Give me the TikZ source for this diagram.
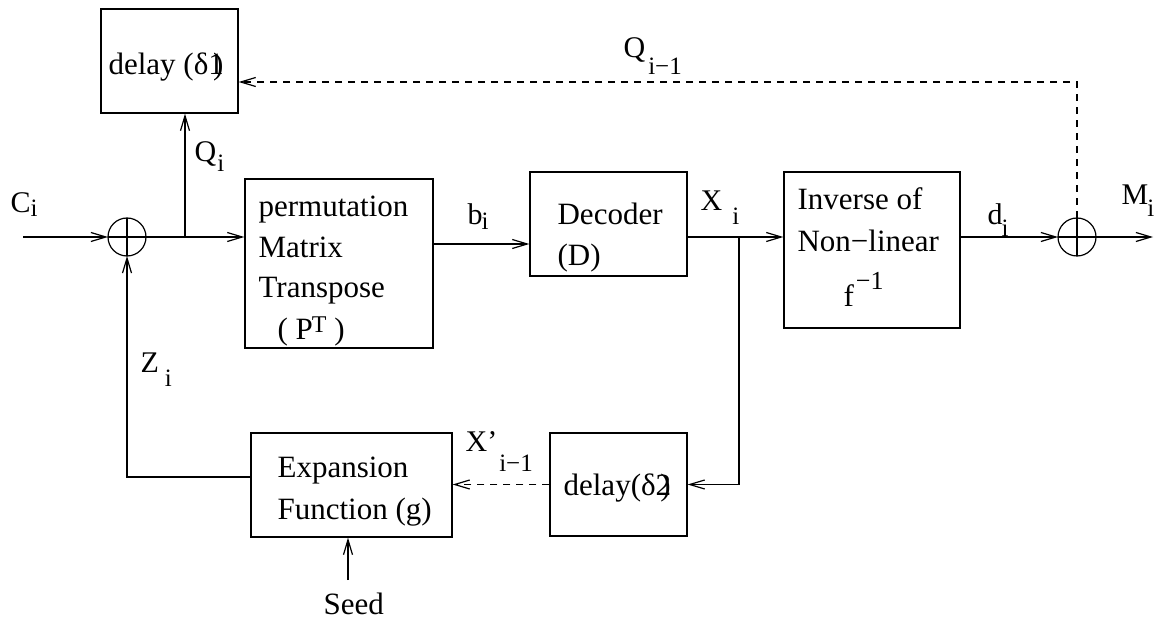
\documentclass[tikz,border=0pt]{standalone}
\usepackage{fontspec}
\setmainfont{Liberation Serif}
\usetikzlibrary{arrows.meta}
\newcommand\boxfont{\fontsize{31}{37}\selectfont}
\newcommand\labfont{\fontsize{30}{36}\selectfont}
\newcommand\subfont{\fontsize{25}{30}\selectfont}
% base letter, index, gap before index, vertical shift of index
\newcommand\idx[4]{#1\kern#3\raisebox{#4}{\subfont #2}}

\begin{document}
\begin{tikzpicture}[x=1pt,y=-1pt,line width=1.2pt,
  arr/.style={-{Straight Barb[length=15pt,width=9pt]}},
  fb/.style={dash pattern=on 7pt off 6pt},
  blk/.style={draw,rectangle,inner sep=0pt},
  xor/.style={draw,circle,inner sep=0pt,outer sep=0pt,minimum size=38pt},
  txt/.style={anchor=base west,inner sep=0pt,font=\boxfont},
  lab/.style={anchor=base west,inner sep=0pt,font=\labfont}]
\useasboundingbox (0,0) rectangle (1163,620);

% blocks
\node[blk,minimum width=137pt,minimum height=104pt] (d1)   at (169.5,61)  {};
\node[blk,minimum width=188pt,minimum height=169pt] (perm) at (339,263.5) {};
\node[blk,minimum width=157pt,minimum height=104pt] (dec)  at (608.5,224) {};
\node[blk,minimum width=176pt,minimum height=156pt] (inv)  at (872,250)   {};
\node[blk,minimum width=201pt,minimum height=104pt] (exp)  at (351.5,485) {};
\node[blk,minimum width=137pt,minimum height=103pt] (d2)   at (618.5,484.5) {};

% modulo-2 adders
\node[xor] (x1) at (127,237) {};
\node[xor] (x2) at (1077,237) {};
\draw (x1.north) -- (x1.south) (x1.west) -- (x1.east);
\draw (x2.north) -- (x2.south) (x2.west) -- (x2.east);

% block texts
\node[txt] (t1) at (108,75) {delay (δ1\kern-0.35em)};
\node[txt] (t2) at (258,217) {permutation};
\node[txt] (t3) at (258,258) {Matrix};
\node[txt] (t4) at (258,298) {Transpose};
\node[txt] (t5) at (277,340) {( P\kern-1pt\raisebox{7pt}{\fontsize{24}{28}\selectfont T} )};
\node[txt] (t6) at (557,225) {Decoder};
\node[txt] (t7) at (557,266) {(D)};
\node[txt] (t8) at (797,210) {Inverse of};
\node[txt] (t9) at (797,252) {Non−linear};
\node[txt] (t10) at (843,307) {f\kern2pt\raisebox{17pt}{\fontsize{26}{30}\selectfont −1}};
\node[txt] (t11) at (277,478) {Expansion};
\node[txt] (t12) at (277,519) {Function (g)};
\node[txt] (t13) at (563,496) {delay(δ2\kern-0.35em)};
\node[txt] (seed) at (323,614) {Seed};

% signal labels
\node[lab] (lc)  at (10,213)  {\idx{C}{i}{0pt}{-4pt}};
\node[lab] (lq)  at (194,162) {\idx{Q}{i}{1pt}{-10pt}};
\node[lab] (lq1) at (623,58)  {\idx{Q}{i−1}{3pt}{-17pt}};
\node[lab] (lz)  at (140,373) {\idx{Z}{i}{6pt}{-14pt}};
\node[lab] (lb)  at (467,225) {\idx{b}{i}{-1pt}{-5pt}};
\node[lab] (lx)  at (700,211) {\idx{X}{i}{10pt}{-14pt}};
\node[lab] (ld)  at (987,225) {\idx{d}{i}{-1pt}{-12pt}};
\node[lab] (lm)  at (1121,205) {\idx{M}{i}{-1pt}{-12pt}};
\node[lab] (lx1) at (465,452) {\idx{X’}{i−1}{2pt}{-20pt}};

% free ends and branch points
\coordinate (cin)  at (23,237);
\coordinate (br1)  at (185,237);
\coordinate (br2)  at (739,237);
\coordinate (mout) at (1153,237);
\coordinate (sd)   at (348,580);

% connectors
\draw[arr] (cin) -- (x1.west);
\draw[arr] (x1.east) -- (perm.west |- x1.center);
\draw[arr] (br1) -- (br1 |- d1.south);
\draw[arr] (perm.east |- 0,244) -- (dec.west |- 0,244);
\draw[arr] (dec.east |- 0,237) -- (inv.west |- 0,237);
\draw[arr] (br2) |- (d2.east);
\draw[arr,fb] (d2.west) -- (exp.east |- d2.west);
\draw[arr] (exp.west |- 0,477) -| (x1.south);
\draw[arr] (sd) -- (sd |- exp.south);
\draw[arr] (inv.east |- 0,237) -- (x2.west);
\draw[arr] (x2.east) -- (mout);
\draw[arr,fb] (x2.north) |- (d1.east |- 0,82);
\end{tikzpicture}
\end{document}
